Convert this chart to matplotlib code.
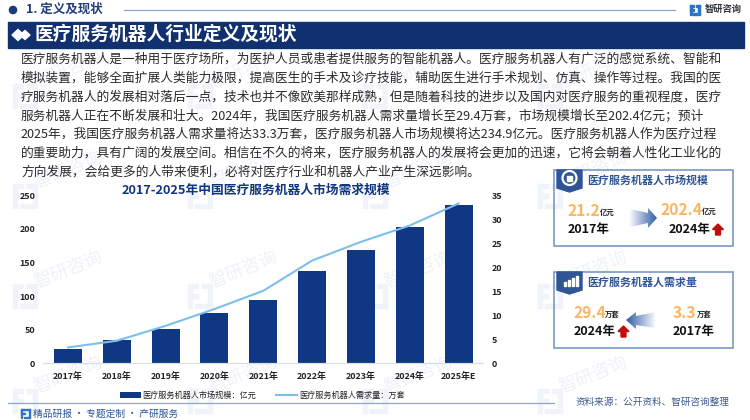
import numpy as np
import matplotlib
matplotlib.use("Agg")
import matplotlib.pyplot as plt
from matplotlib.patches import Polygon, Rectangle, Circle

plt.rcParams['font.family'] = ['Noto Sans CJK SC', 'DejaVu Sans']

# chart data
years = ['2017年', '2018年', '2019年', '2020年', '2021年', '2022年', '2023年', '2024年', '2025年E']
market_size = [21.2, 34, 51.6, 74.4, 94, 137, 168, 202.4, 234.9]
demand = [3.3, 4.7, 7.8, 11.3, 15.1, 21.4, 25.3, 28.7, 33.3]
left_ticks = [0, 50, 100, 150, 200, 250]
right_ticks = [0, 5, 10, 15, 20, 25, 30, 35]

body_lines = [
    '医疗服务机器人是一种用于医疗场所，为医护人员或患者提供服务的智能机器人。医疗服务机器人有广泛的感觉系统、智能和',
    '模拟装置，能够全面扩展人类能力极限，提高医生的手术及诊疗技能，辅助医生进行手术规划、仿真、操作等过程。我国的医',
    '疗服务机器人的发展相对落后一点，技术也并不像欧美那样成熟，但是随着科技的进步以及国内对医疗服务的重视程度，医疗',
    '服务机器人正在不断发展和壮大。2024年，我国医疗服务机器人需求量增长至29.4万套，市场规模增长至202.4亿元；预计',
    '2025年，我国医疗服务机器人需求量将达33.3万套，医疗服务机器人市场规模将达234.9亿元。医疗服务机器人作为医疗过程',
    '的重要助力，具有广阔的发展空间。相信在不久的将来，医疗服务机器人的发展将会更加的迅速，它将会朝着人性化工业化的',
    '方向发展，会给更多的人带来便利，必将对医疗行业和机器人产业产生深远影响。',
]

NAVY = '#0f3783'
SKY = '#7cc0ea'
ORANGE = '#f9b662'
PANEL = '#6f8fc4'

fig = plt.figure(figsize=(7.5, 4.2), dpi=100, facecolor='white')

# page layer in pixel coordinates, y pointing down like the picture
page = fig.add_axes([0, 0, 1, 1], zorder=0)
page.set_xlim(0, 750)
page.set_ylim(420, 0)
page.axis('off')


def logo(ax, x, y, s, color, z=1):
    # rough version of the company mark
    ax.add_patch(Rectangle((x, y), s * 0.42, s * 0.16, color=color, zorder=z))
    ax.add_patch(Rectangle((x, y), s * 0.16, s, color=color, zorder=z))
    ax.add_patch(Rectangle((x, y + s * 0.42), s * 0.42, s * 0.16, color=color, zorder=z))
    ax.add_patch(Rectangle((x + s * 0.58, y), s * 0.42, s * 0.16, color=color, zorder=z))
    ax.add_patch(Rectangle((x + s * 0.84, y), s * 0.16, s * 0.85, color=color, zorder=z))
    ax.add_patch(Rectangle((x + s * 0.3, y + s * 0.84), s * 0.7, s * 0.16, color=color, zorder=z))


# watermarks
for wy in [70, 170, 270, 375]:
    for wx in [68, 243, 418, 593]:
        page.text(wx, wy, '智研咨询', fontsize=13, color='#eef2f8', rotation=22,
                  ha='center', va='center', zorder=0.5)
        logo(page, wx - 55, wy + 14, 24, '#f0f4fa', z=0.5)

# top strip
page.add_patch(Circle((13, 10), 3.6, color='#1c3a78', zorder=2))
page.text(26, 9.5, '1. 定义及现状', fontsize=9, fontweight='bold', color='#1f3d7a', va='center', zorder=2)
page.plot([124, 675], [9.5, 9.5], color='#8fa4c8', lw=0.9, zorder=2)
logo(page, 690, 5, 10, '#2f74c0', z=2)
page.text(705, 9.5, '智研咨询', fontsize=6.7, fontweight='bold', color='#30343c', va='center', zorder=2)

# banner
page.add_patch(Rectangle((8, 22), 736, 26, color='#10306f', zorder=2))
page.add_patch(Polygon([(12, 35), (18, 29.5), (24, 35), (18, 40.5)], color='white', zorder=3))
page.add_patch(Polygon([(20, 35), (25, 30.5), (30, 35), (25, 39.5)], color='white', zorder=3))
page.text(35, 34.5, '医疗服务机器人行业定义及现状', fontsize=13.5, fontweight='bold', color='white',
          va='center', zorder=3)

# body paragraph
for i, line in enumerate(body_lines):
    page.text(21, 59 + i * 18.8, line, fontsize=9.15, color='#2a2a2a', va='center', zorder=3)

# bottom strip
page.plot([8, 554], [403, 403], color='#8fa4c8', lw=0.9, zorder=2)
logo(page, 21, 409, 9, '#2f74c0', z=2)
page.text(33, 414, '精品研报 · 专题定制 · 产研服务', fontsize=7, color='#2f5597', va='center', zorder=2)
page.text(576, 402, '资料来源：公开资料、智研咨询整理', fontsize=6.9, color='#3d5a8e', va='center', zorder=2)


def gradient_arrow(ax, pts, x0, x1, y0, y1, left_dark):
    # horizontal fade clipped to the arrow outline
    fade = np.linspace(0, 1, 64).reshape(1, -1)
    if left_dark:
        fade = fade[:, ::-1]
    rgba = np.zeros((1, 64, 4))
    rgba[..., 0] = 0.19
    rgba[..., 1] = 0.36
    rgba[..., 2] = 0.65
    rgba[..., 3] = 0.05 + 0.95 * fade
    im = ax.imshow(rgba, extent=(x0, x1, y1, y0), aspect='auto', zorder=3)
    im.set_clip_path(Polygon(pts, transform=ax.transData))


def red_arrow(ax, cx, top, bottom, half):
    mid = top + (bottom - top) * 0.5
    pts = [(cx, top), (cx + half, mid), (cx + half * 0.45, mid), (cx + half * 0.45, bottom),
           (cx - half * 0.45, bottom), (cx - half * 0.45, mid), (cx - half, mid)]
    ax.add_patch(Polygon(pts, color='#c00d0d', zorder=3))


def panel(ax, top, title):
    ax.add_patch(Rectangle((553.5, top), 179, 76, fill=False, edgecolor=PANEL, lw=1.1, zorder=2))
    ax.add_patch(Polygon([(557, top), (582, top), (582, top + 18), (569.5, top + 22), (557, top + 18)],
                         color='#2f5597', zorder=3))
    ax.text(587, top + 10, title, fontsize=7.9, fontweight='bold', color='#2f5597', va='center', zorder=3)


def stat(ax, x, y, number, unit, unit_x):
    ax.text(x, y, number, fontsize=11.3, fontweight='bold', color=ORANGE, va='center', zorder=3)
    ax.text(unit_x, y + 1, unit, fontsize=5.3, fontweight='bold', color='#222222', va='center', zorder=3)


# market panel
panel(page, 170, '医疗服务机器人市场规模')
page.add_patch(Circle((569.5, 178), 7, fill=False, edgecolor='white', lw=1.6, zorder=4))
page.add_patch(Rectangle((567, 176), 5, 5, color='white', zorder=4))
stat(page, 568, 211, '21.2', '亿元', 600)
page.text(568, 229, '2017年', fontsize=9, fontweight='bold', color='#111111', va='center', zorder=3)
stat(page, 660.5, 210, '202.4', '亿元', 702)
page.text(668.5, 229, '2024年', fontsize=9, fontweight='bold', color='#111111', va='center', zorder=3)
red_arrow(page, 718, 224, 235, 5.5)
gradient_arrow(page, [(630, 209), (648, 213), (648, 208), (657, 218), (648, 228), (648, 223), (630, 227)],
               630, 657, 208, 228, False)

# demand panel
panel(page, 272, '医疗服务机器人需求量')
for bx, bh in [(564, 4), (568, 6), (572, 8), (576, 10)]:
    page.add_patch(Rectangle((bx, 286 - bh), 2.4, bh, color='white', zorder=4))
stat(page, 573, 313, '29.4', '万套', 605)
page.text(574, 332, '2024年', fontsize=9, fontweight='bold', color='#111111', va='center', zorder=3)
red_arrow(page, 623.5, 326, 337, 5.5)
stat(page, 673, 313, '3.3', '万套', 697)
page.text(673, 332, '2017年', fontsize=9, fontweight='bold', color='#111111', va='center', zorder=3)
gradient_arrow(page, [(655, 312), (636, 316), (636, 312), (626, 320), (636, 329), (636, 325), (655, 328)],
               626, 655, 312, 329, True)

# chart title
page.text(256, 190, '2017-2025年中国医疗服务机器人市场需求规模', fontsize=9.2, fontweight='bold',
          color='#10357f', ha='center', va='center', zorder=3)

# combo chart
ax = fig.add_axes([43.5 / 750, (420 - 363.3) / 420, 439.5 / 750, 168 / 420], zorder=2)
ax.patch.set_alpha(0)
x = np.arange(len(years))
bars = ax.bar(x, market_size, width=0.57, color=NAVY, label='医疗服务机器人市场规模：亿元')
ax.set_xlim(-0.5, len(years) - 0.5)
ax.set_ylim(0, 250)
ax.set_yticks(left_ticks)
ax.set_xticks(x)
ax.set_xticklabels(years)

ax2 = ax.twinx()
ax2.patch.set_alpha(0)
line, = ax2.plot(x, demand, color=SKY, lw=1.5, label='医疗服务机器人需求量：万套')
ax2.set_ylim(0, 35)
ax2.set_yticks(right_ticks)

for a in (ax, ax2):
    for side in ('top', 'left', 'right'):
        a.spines[side].set_visible(False)
    a.spines['bottom'].set_color('#d9dfe8')
    a.tick_params(length=0, labelsize=6.4, labelcolor='#222222')
    for lab in a.get_yticklabels():
        lab.set_fontweight('bold')
ax.tick_params(axis='y', pad=6)
ax.tick_params(axis='x', pad=6)
for lab in ax.get_xticklabels():
    lab.set_fontweight('bold')
ax2.tick_params(axis='y', pad=6)

fig.legend(handles=[bars, line], loc='center', bbox_to_anchor=(262 / 750, (420 - 395) / 420), ncol=2,
           frameon=False, fontsize=5.9, handlelength=2.6, handletextpad=0.2, columnspacing=2.4,
           borderpad=0, labelcolor='#222222')

fig.savefig('out.png', dpi=100)
